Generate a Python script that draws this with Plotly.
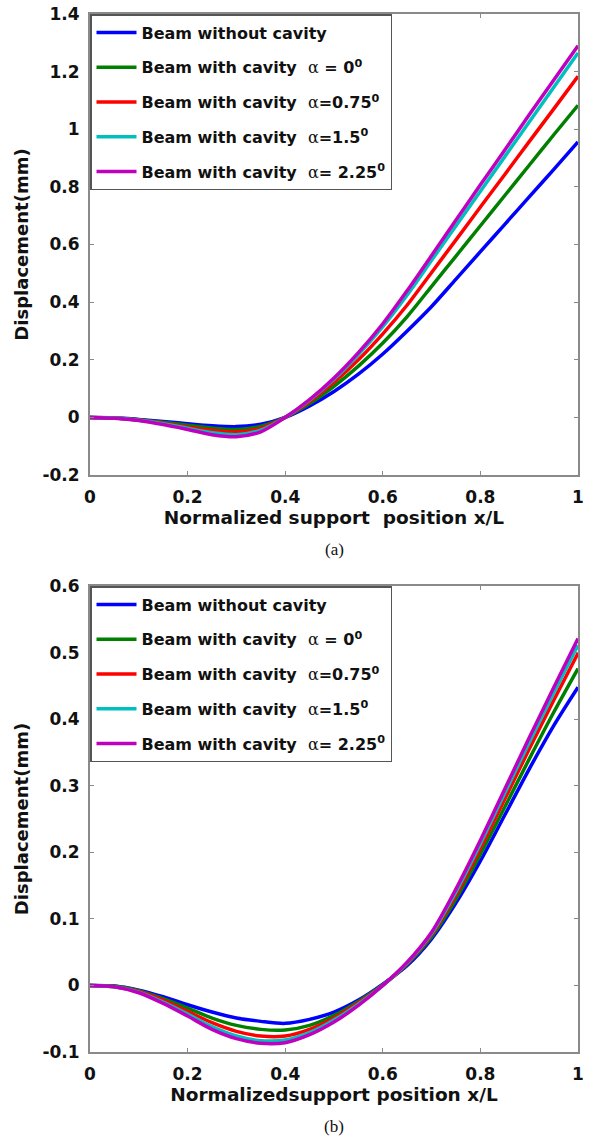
import plotly.graph_objects as go

# ---------------- data ----------------
x_pos = [0.0, 0.05, 0.1, 0.15, 0.2, 0.25, 0.3, 0.35, 0.4, 0.45, 0.5,
         0.55, 0.6, 0.65, 0.7, 0.75, 0.8, 0.85, 0.9, 0.95, 1.0]

ALPHA = '<span style="font-family:\'DejaVu Serif\';font-weight:normal">α</span>'
series_names = [
    "<b>Beam without cavity</b>",
    "<b>Beam with cavity\u00a0\u00a0</b>" + ALPHA + "<b> = 0<sup>0</sup></b>",
    "<b>Beam with cavity\u00a0\u00a0</b>" + ALPHA + "<b>=0.75<sup>0</sup></b>",
    "<b>Beam with cavity\u00a0\u00a0</b>" + ALPHA + "<b>=1.5<sup>0</sup></b>",
    "<b>Beam with cavity\u00a0\u00a0</b>" + ALPHA + "<b>= 2.25<sup>0</sup></b>",
]
series_colors = ["#0000ff", "#008000", "#ff0000", "#00bfbf", "#bf00bf"]

# (a)
a_without = [0.0, -0.001, -0.007, -0.014, -0.022, -0.029, -0.032, -0.024, 0.0, 0.04, 0.09,
             0.15, 0.22, 0.30, 0.385, 0.48, 0.575, 0.67, 0.765, 0.86, 0.956]
a_alpha0 = [0.0, -0.002, -0.008, -0.017, -0.027, -0.037, -0.042, -0.031, 0.0, 0.048, 0.108,
            0.178, 0.258, 0.35, 0.455, 0.56, 0.665, 0.77, 0.875, 0.98, 1.083]
a_alpha075 = [0.0, -0.002, -0.009, -0.02, -0.033, -0.045, -0.051, -0.038, 0.0, 0.055, 0.122,
              0.20, 0.29, 0.39, 0.503, 0.616, 0.73, 0.843, 0.957, 1.07, 1.184]
a_alpha15 = [0.0, -0.002, -0.01, -0.022, -0.038, -0.053, -0.06, -0.044, 0.0, 0.06, 0.132,
             0.218, 0.315, 0.425, 0.545, 0.665, 0.785, 0.905, 1.025, 1.145, 1.265]
a_alpha225 = [0.0, -0.003, -0.011, -0.025, -0.042, -0.06, -0.067, -0.05, 0.0, 0.062, 0.137,
              0.225, 0.325, 0.44, 0.562, 0.685, 0.807, 0.928, 1.05, 1.17, 1.29]

# (b)
b_without = [0.0, -0.001, -0.007, -0.017, -0.029, -0.04, -0.049, -0.054, -0.057, -0.051, -0.04,
             -0.022, 0.002, 0.03, 0.07, 0.124, 0.187, 0.256, 0.325, 0.39, 0.448]
b_alpha0 = [0.0, -0.001, -0.008, -0.02, -0.034, -0.049, -0.06, -0.066, -0.067, -0.06, -0.045,
            -0.024, 0.001, 0.032, 0.073, 0.13, 0.197, 0.268, 0.34, 0.41, 0.476]
b_alpha075 = [0.0, -0.002, -0.009, -0.022, -0.039, -0.056, -0.069, -0.076, -0.076, -0.066, -0.049,
              -0.026, 0.0, 0.033, 0.076, 0.136, 0.206, 0.28, 0.355, 0.428, 0.499]
b_alpha15 = [0.0, -0.002, -0.01, -0.025, -0.043, -0.062, -0.076, -0.083, -0.082, -0.071, -0.052,
             -0.028, 0.0, 0.034, 0.078, 0.141, 0.213, 0.289, 0.365, 0.439, 0.511]
b_alpha225 = [0.0, -0.002, -0.011, -0.027, -0.046, -0.066, -0.08, -0.087, -0.086, -0.074, -0.055,
              -0.03, 0.0, 0.035, 0.08, 0.145, 0.218, 0.295, 0.372, 0.447, 0.521]

x_ticks = [0, 0.2, 0.4, 0.6, 0.8, 1.0]
x_ticktext = ["0", "0.2", "0.4", "0.6", "0.8", "1"]
ya_ticks = [-0.2, 0, 0.2, 0.4, 0.6, 0.8, 1.0, 1.2, 1.4]
ya_ticktext = ["-0.2", "0", "0.2", "0.4", "0.6", "0.8", "1", "1.2", "1.4"]
yb_ticks = [-0.1, 0, 0.1, 0.2, 0.3, 0.4, 0.5, 0.6]
yb_ticktext = ["-0.1", "0", "0.1", "0.2", "0.3", "0.4", "0.5", "0.6"]

# ---------------- figure ----------------
W, H = 591, 1142
FONT = "DejaVu Sans"
fig = go.Figure()

series_a = [a_without, a_alpha0, a_alpha075, a_alpha15, a_alpha225]
series_b = [b_without, b_alpha0, b_alpha075, b_alpha15, b_alpha225]

for i, (nm, col, ys) in enumerate(zip(series_names, series_colors, series_a)):
    fig.add_trace(go.Scatter(x=x_pos, y=ys, mode="lines", name=nm,
                             line=dict(color=col, width=3.5, shape="spline", smoothing=0.8),
                             xaxis="x", yaxis="y", legend="legend",
                             legendgroup="a%d" % i))
for i, (nm, col, ys) in enumerate(zip(series_names, series_colors, series_b)):
    fig.add_trace(go.Scatter(x=x_pos, y=ys, mode="lines", name=nm,
                             line=dict(color=col, width=3.5, shape="spline", smoothing=0.8),
                             xaxis="x2", yaxis="y2", legend="legend2",
                             legendgroup="b%d" % i))

def px_x(p):
    return p / W

def px_y(p):
    return 1 - p / H

x_dom = [px_x(90), px_x(578)]
a_dom = [px_y(475), px_y(14)]
b_dom = [px_y(1052), px_y(586)]

axis_common = dict(
    showline=True, linecolor="#8a8a8a", linewidth=2, mirror="ticks",
    ticks="inside", ticklen=4, tickcolor="#8a8a8a", tickwidth=1,
    showgrid=False, zeroline=False, automargin=False,
    tickfont=dict(family=FONT, size=17, color="#111111", weight="bold"),
)
title_font = dict(family=FONT, size=18.5, color="#111111", weight="bold")
ytitle_font = dict(family=FONT, size=18, color="#111111", weight="bold")
legend_common = dict(
    xanchor="left", yanchor="top",
    bgcolor="white", bordercolor="#555555", borderwidth=1.5,
    font=dict(family=FONT, size=16, color="#111111"),
    tracegroupgap=11, itemwidth=40,
)

fig.update_layout(
    template="none",
    width=W, height=H,
    margin=dict(l=0, r=0, t=0, b=0, autoexpand=False),
    paper_bgcolor="white", plot_bgcolor="white",
    font=dict(family=FONT, color="#111111"),
    xaxis=dict(domain=x_dom, anchor="y", range=[0, 1], tickvals=x_ticks, ticktext=x_ticktext,
               ticklabelstandoff=6,
               title=dict(text="Normalized support\u00a0\u00a0position x/L", font=title_font, standoff=4),
               **axis_common),
    yaxis=dict(domain=a_dom, anchor="x", range=[-0.2, 1.4], tickvals=ya_ticks, ticktext=ya_ticktext,
               ticklabelstandoff=5,
               title=dict(text="Displacement(mm)", font=ytitle_font, standoff=9),
               **axis_common),
    xaxis2=dict(domain=x_dom, anchor="y2", range=[0, 1], tickvals=x_ticks, ticktext=x_ticktext,
                ticklabelstandoff=6,
                title=dict(text="Normalizedsupport position x/L", font=title_font, standoff=4),
                **axis_common),
    yaxis2=dict(domain=b_dom, anchor="x2", range=[-0.1, 0.6], tickvals=yb_ticks, ticktext=yb_ticktext,
                ticklabelstandoff=5,
                title=dict(text="Displacement(mm)", font=ytitle_font, standoff=9),
                **axis_common),
    legend=dict(x=px_x(90), y=px_y(14), **legend_common),
    legend2=dict(x=px_x(90), y=px_y(586), **legend_common),
    showlegend=True,
    annotations=[
        dict(text="(a)", x=(x_dom[0] + x_dom[1]) / 2, y=px_y(549), xref="paper", yref="paper",
             xanchor="center", yanchor="middle", showarrow=False,
             font=dict(family="Liberation Serif", size=17, color="#111111")),
        dict(text="(b)", x=(x_dom[0] + x_dom[1]) / 2, y=px_y(1126), xref="paper", yref="paper",
             xanchor="center", yanchor="middle", showarrow=False,
             font=dict(family="Liberation Serif", size=17, color="#111111")),
    ],
)

fig.write_html("out.html")
